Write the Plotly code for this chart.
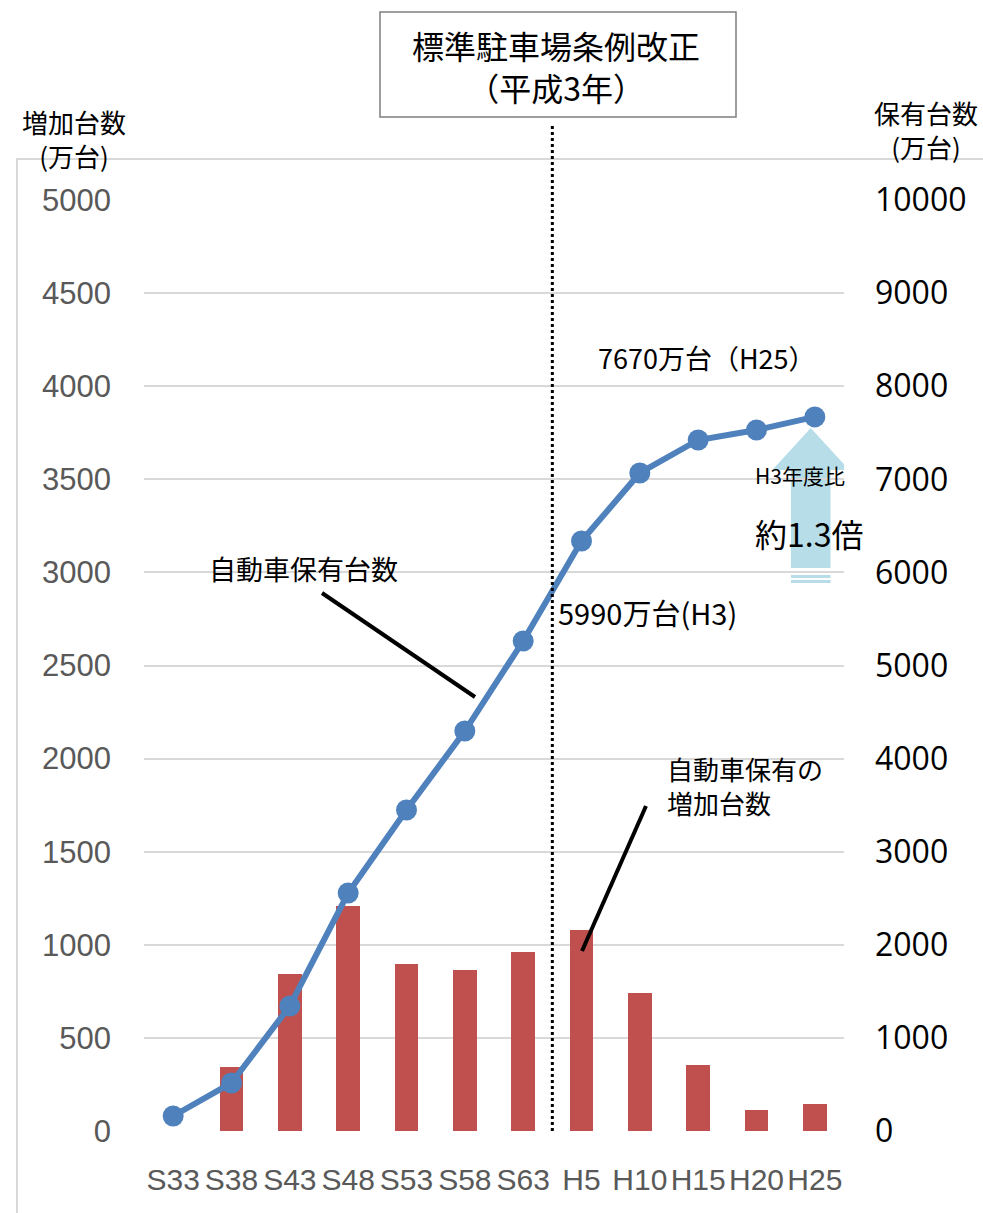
import plotly.graph_objects as go

# 年次区分
periods = ["S33", "S38", "S43", "S48", "S53", "S58", "S63", "H5", "H10", "H15", "H20", "H25"]
# 自動車保有の増加台数（万台・左軸）
increase = [None, 344, 843, 1208, 897, 865, 961, 1079, 741, 354, 113, 145]
# 自動車保有台数（万台・右軸）
holdings = [161, 516, 1343, 2556, 3448, 4296, 5263, 6337, 7068, 7422, 7530, 7670]

left_ticks = [0, 500, 1000, 1500, 2000, 2500, 3000, 3500, 4000, 4500, 5000]
right_ticks = [0, 1000, 2000, 3000, 4000, 5000, 6000, 7000, 8000, 9000, 10000]

W, H = 983, 1213
L, R, T, B = 144, 844, 200, 1131


def fx(px):
    return (px - L) / (R - L)


def fy(py):
    return (B - py) / (B - T)


xs = list(range(len(periods)))
CJK = "Noto Sans CJK JP, Noto Sans, sans-serif"
NARROW = "Liberation Sans Narrow, Arial Narrow, Liberation Sans, sans-serif"

fig = go.Figure()
fig.add_trace(go.Bar(
    x=xs, y=increase, yaxis="y", marker=dict(color="#C0504D", line=dict(width=0)),
    width=0.41, name="自動車保有の増加台数", hoverinfo="y",
))
fig.add_trace(go.Scatter(
    x=xs, y=holdings, yaxis="y2", mode="lines+markers",
    line=dict(color="#4F81BD", width=6),
    marker=dict(color="#4F81BD", size=21),
    name="自動車保有台数",
))

shapes = []
# 外枠
shapes.append(dict(type="rect", xref="paper", yref="paper",
                   x0=fx(17), x1=fx(1010), y0=fy(159), y1=fy(1240),
                   line=dict(color="#D9D9D9", width=2), fillcolor="rgba(0,0,0,0)", layer="below"))
# 平成3年の区切り線
shapes.append(dict(type="line", xref="x", yref="paper", x0=6.5, x1=6.5, y0=0, y1=fy(125),
                   line=dict(color="black", width=3, dash="dot")))
# 見出しの枠
shapes.append(dict(type="rect", xref="paper", yref="paper",
                   x0=fx(380), x1=fx(736), y0=fy(12), y1=fy(117),
                   line=dict(color="#7F7F7F", width=1.5), fillcolor="white"))
# 引出し線
shapes.append(dict(type="line", xref="paper", yref="paper",
                   x0=fx(322), y0=fy(593), x1=fx(475), y1=fy(697),
                   line=dict(color="black", width=4)))
shapes.append(dict(type="line", xref="paper", yref="paper",
                   x0=fx(646), y0=fy(806), x1=fx(582), y1=fy(951),
                   line=dict(color="black", width=4)))
# H3年度比の矢印
ax = 10.93
sw, hw = 0.34, 0.66
path = (f"M {ax - sw},6047 L {ax - sw},7100 L {ax - hw},7100 L {ax},7550 "
        f"L {ax + hw},7100 L {ax + sw},7100 L {ax + sw},6047 Z")
shapes.append(dict(type="path", xref="x", yref="y2", path=path,
                   fillcolor="#B7DEE8", line=dict(width=0), layer="below"))
for y0, y1 in [(5940, 5972), (5886, 5918)]:
    shapes.append(dict(type="rect", xref="x", yref="y2", x0=ax - sw, x1=ax + sw, y0=y0, y1=y1,
                       fillcolor="#B7DEE8", line=dict(width=0), layer="below"))

annotations = []


def note(text, px, py, size, xanchor="center", color="black", align="center"):
    annotations.append(dict(text=text, xref="paper", yref="paper", x=fx(px), y=fy(py),
                            xanchor=xanchor, yanchor="middle", showarrow=False, align=align,
                            font=dict(family=CJK, size=size, color=color)))


note("標準駐車場条例改正<br>（平成3年）", 556, 66, 32)
note("増加台数<br>(万台)", 74, 138, 26)
note("保有台数<br>(万台)", 926, 130, 26)
note("7670万台（H25）", 707, 357, 27)
note("H3年度比", 800, 475, 21)
note("約1.3倍", 809, 533, 32)
note("5990万台(H3)", 556, 612, 29, xanchor="left")
note("自動車保有台数", 303, 568, 27)
note("自動車保有の<br>増加台数", 665, 785, 26, xanchor="left", align="left")

fig.update_layout(
    width=W, height=H,
    margin=dict(l=L, r=W - R, t=T, b=H - B, pad=0, autoexpand=False),
    paper_bgcolor="white", plot_bgcolor="white",
    showlegend=False, bargap=0,
    shapes=shapes, annotations=annotations,
    xaxis=dict(range=[-0.5, 11.5], tickvals=xs, ticktext=periods, showgrid=False,
               zeroline=False, showline=False, ticks="", ticklabelstandoff=28,
               tickangle=0, automargin=False,
               tickfont=dict(family=NARROW, size=30, color="#595959")),
    yaxis=dict(range=[0, 5000], tickvals=left_ticks, showgrid=True, gridcolor="#D9D9D9",
               gridwidth=2, zeroline=False, showline=False, ticks="", ticklabelstandoff=32,
               automargin=False,
               tickfont=dict(family=NARROW, size=31, color="#595959")),
    yaxis2=dict(range=[0, 10000], tickvals=right_ticks, ticktext=[str(v) for v in right_ticks],
                overlaying="y", side="right", automargin=False,
                showgrid=False, zeroline=False, showline=False, ticks="", ticklabelstandoff=30,
                tickfont=dict(family="Open Sans, Liberation Sans, sans-serif", size=32,
                              color="black")),
)

fig.write_html("out.html")
